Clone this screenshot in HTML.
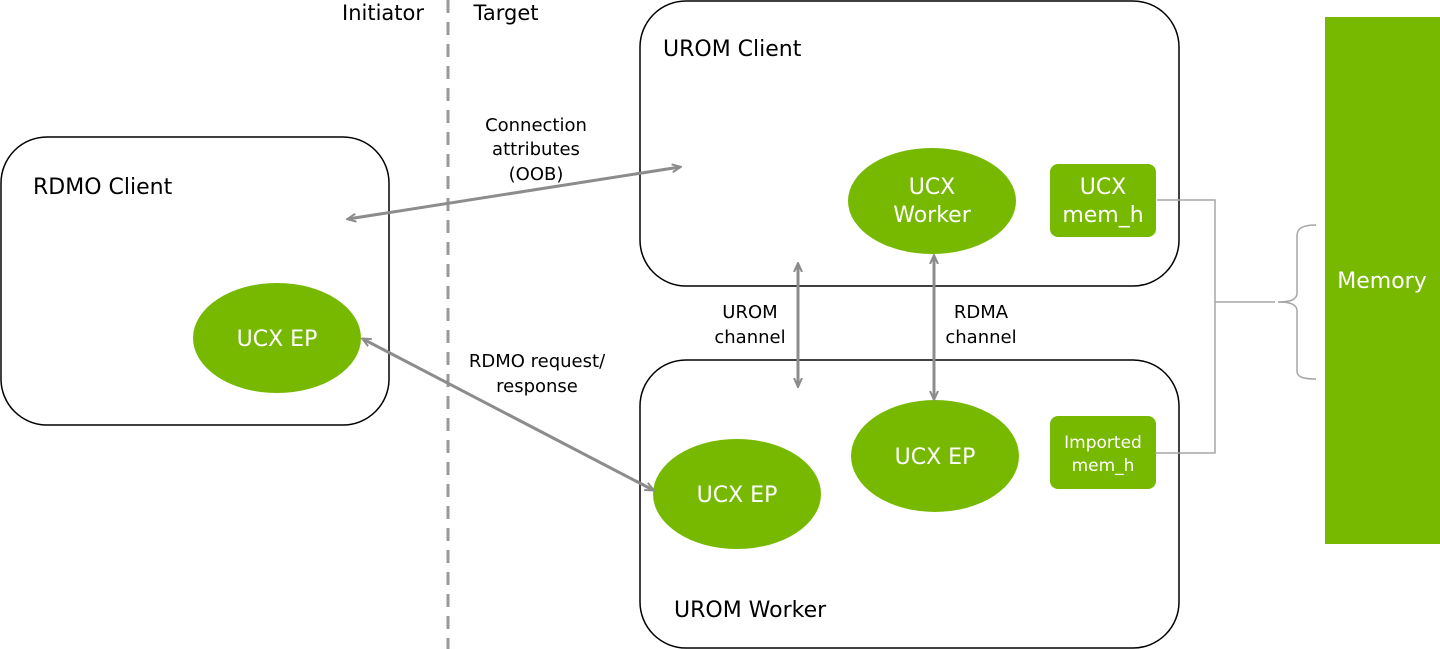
<!DOCTYPE html>
<html><head><meta charset="utf-8"><style>
html,body{margin:0;padding:0;background:#fff;}
svg{display:block;font-family:"DejaVu Sans","Liberation Sans",sans-serif;}
</style></head><body>
<svg width="1440" height="649" viewBox="0 0 1440 649" xmlns="http://www.w3.org/2000/svg">
<defs>
<marker id="a" markerWidth="10" markerHeight="10" refX="8" refY="5" orient="auto-start-reverse" markerUnits="userSpaceOnUse">
<path d="M0,1 L9,5 L0,9" fill="none" stroke="#8c8c8c" stroke-width="2"/>
</marker>
</defs>
<!-- dashed divider -->
<line x1="448" y1="0" x2="448" y2="649" stroke="#999" stroke-width="3" stroke-dasharray="13,9"/>
<text x="383" y="20" font-size="21" text-anchor="middle" fill="#000">Initiator</text>
<text x="506" y="20" font-size="21" text-anchor="middle" fill="#000">Target</text>
<!-- boxes -->
<rect x="1" y="137" width="388" height="288" rx="46" fill="none" stroke="#000" stroke-width="1.5"/>
<rect x="640" y="1" width="539" height="285" rx="46" fill="none" stroke="#000" stroke-width="1.5"/>
<rect x="640" y="360" width="539" height="288" rx="46" fill="none" stroke="#000" stroke-width="1.5"/>
<text x="33" y="194" font-size="22" fill="#000">RDMO Client</text>
<text x="663" y="56" font-size="22" fill="#000">UROM Client</text>
<text x="674" y="617" font-size="22" fill="#000">UROM Worker</text>
<!-- ellipses -->
<g fill="#76b900">
<ellipse cx="277" cy="338" rx="84" ry="55"/>
<ellipse cx="932" cy="201" rx="84" ry="53"/>
<ellipse cx="935" cy="456" rx="84" ry="56"/>
<ellipse cx="737" cy="494" rx="84" ry="55"/>
<rect x="1050" y="164" width="106" height="73" rx="8"/>
<rect x="1050" y="416" width="106" height="73" rx="8"/>
<rect x="1325" y="17" width="115" height="527"/>
</g>
<g fill="#fff" text-anchor="middle">
<text x="277" y="346" font-size="22">UCX EP</text>
<text x="932" y="194" font-size="22">UCX</text>
<text x="932" y="222" font-size="22">Worker</text>
<text x="935" y="464" font-size="22">UCX EP</text>
<text x="737" y="502" font-size="22">UCX EP</text>
<text x="1103" y="194" font-size="22">UCX</text>
<text x="1103" y="222" font-size="22">mem_h</text>
<text x="1103" y="448" font-size="17">Imported</text>
<text x="1103" y="471" font-size="17">mem_h</text>
<text x="1382" y="288" font-size="22">Memory</text>
</g>
<!-- arrows -->
<g stroke="#8c8c8c" stroke-width="3" fill="none" marker-start="url(#a)" marker-end="url(#a)">
<line x1="348" y1="219" x2="680" y2="167"/>
<line x1="363" y1="339" x2="653" y2="490"/>
<line x1="798" y1="264" x2="798" y2="386"/>
<line x1="934" y1="256" x2="934" y2="399"/>
</g>
<g font-size="18" text-anchor="middle" fill="#000">
<text x="536" y="131">Connection</text>
<text x="536" y="155">attributes</text>
<text x="536" y="180">(OOB)</text>
<text x="537" y="367">RDMO request/</text>
<text x="537" y="392">response</text>
<text x="750" y="318">UROM</text>
<text x="750" y="343">channel</text>
<text x="981" y="318">RDMA</text>
<text x="981" y="343">channel</text>
</g>
<!-- memory connectors -->
<g stroke="#a6a6a6" stroke-width="1.5" fill="none">
<polyline points="1157,200 1215,200 1215,453 1155,453"/>
<line x1="1215" y1="302" x2="1275" y2="302"/>
<path d="M1278,302 C1290,302 1296,300 1297,294 L1297,236 C1297,228 1303,225 1316,225"/>
<path d="M1278,302 C1290,302 1296,304 1297,310 L1297,371 C1297,377 1303,379 1316,379"/>
</g>
</svg>
</body></html>
